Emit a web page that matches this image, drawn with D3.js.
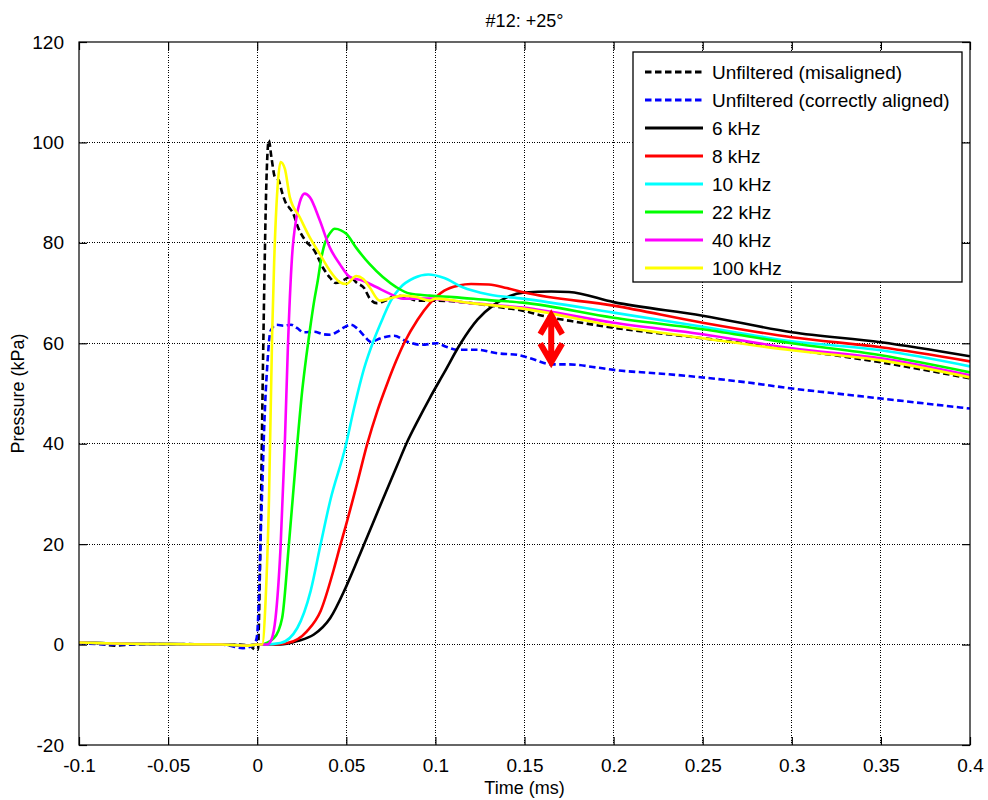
<!DOCTYPE html>
<html><head><meta charset="utf-8">
<script src="https://cdn.jsdelivr.net/npm/d3@7"></script>
<style>
html,body{margin:0;padding:0;background:#fff;}
text{font-family:"Liberation Sans",Arial,sans-serif;fill:#000;}
</style></head>
<body><svg id="chart" width="988" height="800"></svg>
<script>
// ---------- data ----------
const title = "#12: +25°";
const xLabel = "Time (ms)";
const yLabel = "Pressure (kPa)";
const xTicks = [-0.1,-0.05,0,0.05,0.1,0.15,0.2,0.25,0.3,0.35,0.4];
const xTickLabels = ["-0.1","-0.05","0","0.05","0.1","0.15","0.2","0.25","0.3","0.35","0.4"];
const yTicks = [-20,0,20,40,60,80,100,120];
const yTickLabels = ["-20","0","20","40","60","80","100","120"];

const seriesNames = ["Unfiltered (misaligned)","Unfiltered (correctly aligned)","6 kHz","8 kHz","10 kHz","22 kHz","40 kHz","100 kHz"];
const seriesColors = ["#000000","#0000ff","#000000","#ff0000","#00ffff","#00ff00","#ff00ff","#ffff00"];
const seriesDashed = [true,true,false,false,false,false,false,false];

const preTrigger = [[-0.1,0.4],[-0.08,0.2],[-0.05,0.1],[-0.02,0],[-0.005,-0.2]];

const unfilteredMisaligned = [[-0.1,0.3],[-0.09,0.2],[-0.08,-0.2],[-0.07,0],[-0.06,0.1],[-0.05,0],[-0.04,0.1],[-0.03,0],[-0.02,0],[-0.01,0],[-0.004,-0.3],[-0.001,-1],[0.0005,-1],[0.001,5],[0.002,25],[0.003,50],[0.004,72],[0.005,90],[0.0065,100.4],[0.008,97],[0.01,93],[0.012,92.5],[0.014,90],[0.016,88],[0.018,87],[0.02,86],[0.023,83],[0.027,80.5],[0.032,78.5],[0.037,75],[0.041,73],[0.044,72],[0.048,72.5],[0.052,73.2],[0.056,72],[0.06,71],[0.063,69],[0.067,68],[0.072,68.5],[0.078,69.5],[0.085,69],[0.09,68.5],[0.1,68.5],[0.12,68],[0.14,67],[0.149,66.5],[0.16,65.5],[0.18,64.2],[0.2,63.1],[0.25,61],[0.3,58.8],[0.35,56.2],[0.4,53]];

const unfilteredAligned = [[-0.1,0.3],[-0.08,0],[-0.06,0.1],[-0.04,0],[-0.02,0],[-0.008,-0.7],[-0.003,-0.3],[-0.001,0.5],[0,2],[0.001,10],[0.002,22],[0.003,33],[0.004,44],[0.0056,55.3],[0.0075,62.5],[0.011,63.7],[0.015,63.5],[0.019,63.7],[0.0225,63],[0.026,62.2],[0.032,62.3],[0.037,61.8],[0.041,61.7],[0.045,62.3],[0.049,63.2],[0.0524,63.7],[0.056,63],[0.06,61.5],[0.0637,60.3],[0.0693,61],[0.0768,61.5],[0.0843,60.3],[0.0918,59.7],[0.101,60],[0.106,59.3],[0.1124,58.7],[0.1236,58.7],[0.1348,58],[0.146,57.7],[0.155,56.8],[0.165,55.8],[0.175,55.8],[0.19,55.2],[0.2,54.7],[0.225,54],[0.25,53.2],[0.275,52.2],[0.3,51],[0.325,50],[0.35,49],[0.375,48],[0.4,47]];

const filt6k = [[0,0],[0.013,0],[0.0225,0.7],[0.0318,2],[0.041,5.3],[0.0496,11.3],[0.06,20],[0.07,28.5],[0.0787,35.8],[0.0837,40],[0.09,44.5],[0.097,49.2],[0.105,54.2],[0.1142,60],[0.1236,64.7],[0.133,67.7],[0.141,69.3],[0.15,70.1],[0.165,70.3],[0.175,70.2],[0.2,68.2],[0.25,65.5],[0.3,62.2],[0.35,60.2],[0.4,57.4]];

const filt8k = [[0,0],[0.0075,0],[0.0169,0.3],[0.028,2.7],[0.0356,6.7],[0.043,15],[0.0468,20],[0.0496,23.5],[0.056,32],[0.0618,40],[0.0674,46.5],[0.073,52],[0.078,56.5],[0.0824,60],[0.09,64.7],[0.097,68],[0.105,70.5],[0.113,71.5],[0.12,71.8],[0.13,71.7],[0.14,71],[0.15,70.1],[0.2,67.5],[0.25,64.1],[0.3,61.2],[0.35,59.2],[0.4,56.4]];

const filt10k = [[0,0],[0.0037,0],[0.013,0.3],[0.0225,3.3],[0.03,10.7],[0.0356,20],[0.041,28.7],[0.0496,39.5],[0.0543,47],[0.06,55],[0.0655,60.7],[0.0705,65],[0.075,68.5],[0.08,71],[0.088,73],[0.096,73.7],[0.105,73],[0.115,71.2],[0.13,69.7],[0.149,68.9],[0.2,66.1],[0.25,63.3],[0.3,60.4],[0.35,58.6],[0.4,55.4]];

const filt22k = [[0,0],[0.0019,0],[0.0094,1.3],[0.014,5.3],[0.0178,20],[0.0225,40],[0.0253,50.7],[0.0276,57.5],[0.0295,62.5],[0.032,68.5],[0.034,72.5],[0.036,77],[0.038,80],[0.041,82],[0.0435,82.8],[0.047,82.5],[0.05,81.8],[0.0556,79],[0.063,75.8],[0.0705,73.2],[0.078,71.2],[0.0855,69.9],[0.0968,69.5],[0.11,69.2],[0.13,68.6],[0.149,68.1],[0.2,65.1],[0.25,62.8],[0.3,60],[0.35,57.6],[0.4,54.2]];

const filt40k = [[0,0],[0.0056,0],[0.008,1],[0.0103,5.3],[0.0131,19.3],[0.0155,40],[0.0172,59],[0.0195,77],[0.022,85],[0.0239,88.1],[0.0267,89.8],[0.0295,89.1],[0.0351,84.5],[0.0407,79.1],[0.0463,75.8],[0.052,73.2],[0.059,72.5],[0.0668,71.2],[0.0743,69.9],[0.0817,68.9],[0.0968,68.9],[0.12,68],[0.149,67.1],[0.2,64.1],[0.25,61.8],[0.3,59],[0.35,57],[0.4,53.6]];

const filt100k = [[0,0],[0.0028,0],[0.0047,8.7],[0.0066,28.7],[0.0084,62],[0.0095,76],[0.0117,92.4],[0.0131,96.1],[0.0155,94.8],[0.0183,89.1],[0.0239,85.1],[0.0295,81.1],[0.0351,77.8],[0.0407,74.5],[0.0463,72.2],[0.05,71.8],[0.0556,73.4],[0.0595,72.8],[0.063,71.2],[0.0687,68.5],[0.0743,68.9],[0.0816,69.5],[0.0893,69.2],[0.0968,68.5],[0.1,68.9],[0.12,68],[0.149,66.9],[0.2,63.5],[0.25,61],[0.3,58.6],[0.35,56.6],[0.4,53.2]];

const seriesData = [unfilteredMisaligned, unfilteredAligned,
  preTrigger.concat(filt6k), preTrigger.concat(filt8k), preTrigger.concat(filt10k),
  preTrigger.concat(filt22k), preTrigger.concat(filt40k), preTrigger.concat(filt100k)];

// red double arrow annotation (time, top pressure, bottom pressure)
const arrowTime = 0.165, arrowTop = 66.2, arrowBottom = 55.6;

// ---------- layout ----------
const svg = d3.select("#chart");
const L = 79, R = 970, T = 42, B = 745;
const x = d3.scaleLinear().domain([-0.1,0.4]).range([L,R]);
const y = d3.scaleLinear().domain([-20,120]).range([B,T]);
const FS = 19;

// grid
const grid = svg.append("g");
xTicks.slice(1,-1).forEach(t=>{
  grid.append("line").attr("x1",x(t)).attr("x2",x(t)).attr("y1",T).attr("y2",B)
    .attr("stroke","#000").attr("stroke-width",1).attr("stroke-dasharray","1,1.5").attr("shape-rendering","crispEdges");
});
yTicks.slice(1,-1).forEach(t=>{
  grid.append("line").attr("y1",y(t)).attr("y2",y(t)).attr("x1",L).attr("x2",R)
    .attr("stroke","#000").attr("stroke-width",1).attr("stroke-dasharray","1,1.5").attr("shape-rendering","crispEdges");
});

// series
const clip = svg.append("clipPath").attr("id","clp").append("rect").attr("x",L).attr("y",T).attr("width",R-L).attr("height",B-T);
const line = d3.line().x(d=>x(d[0])).y(d=>y(d[1])).curve(d3.curveMonotoneX);
const lines = svg.append("g").attr("clip-path","url(#clp)");
seriesData.forEach((data,i)=>{
  lines.append("path").attr("d",line(data)).attr("fill","none")
    .attr("stroke",seriesColors[i]).attr("stroke-width",2.6)
    .attr("stroke-linejoin","round")
    .attr("stroke-dasharray",seriesDashed[i]?"6.5,3.5":null);
});

// arrow
const ax = x(arrowTime), ayT = y(arrowTop), ayB = y(arrowBottom);
const hw = 11, hl = 22;
svg.append("path")
  .attr("d",`M${ax},${ayT+2}L${ax},${ayB-2}M${ax-hw},${ayT+hl}L${ax},${ayT+3}L${ax+hw},${ayT+hl}M${ax-hw},${ayB-hl}L${ax},${ayB-3}L${ax+hw},${ayB-hl}`)
  .attr("fill","none").attr("stroke","#ff0000").attr("stroke-width",6).attr("stroke-linejoin","miter").attr("stroke-linecap","butt");

// axes box & ticks
const axG = svg.append("g");
axG.append("rect").attr("x",L).attr("y",T).attr("width",R-L).attr("height",B-T)
  .attr("fill","none").attr("stroke","#000").attr("stroke-width",1.2);
const bottomAxis = d3.axisBottom(x).tickValues(xTicks).tickFormat((d,i)=>xTickLabels[i]).tickSize(-8).tickPadding(14);
const topAxis = d3.axisTop(x).tickValues(xTicks).tickFormat("").tickSize(-8);
const leftAxis = d3.axisLeft(y).tickValues(yTicks).tickFormat((d,i)=>yTickLabels[i]).tickSize(-8).tickPadding(15);
const rightAxis = d3.axisRight(y).tickValues(yTicks).tickFormat("").tickSize(-8);
[[bottomAxis,`translate(0,${B})`],[topAxis,`translate(0,${T})`],[leftAxis,`translate(${L},0)`],[rightAxis,`translate(${R},0)`]].forEach(([a,tr])=>{
  const g = svg.append("g").attr("transform",tr).call(a);
  g.select(".domain").remove();
  g.selectAll(".tick line").attr("stroke","#000").attr("stroke-width",1.2);
  g.selectAll("text").attr("font-size",FS).attr("font-family","Liberation Sans, Arial, sans-serif").attr("fill","#000");
});

// title and labels
svg.append("text").attr("x",(L+R)/2).attr("y",27).attr("text-anchor","middle").attr("font-size",18).text(title);
svg.append("text").attr("x",(L+R)/2).attr("y",794).attr("text-anchor","middle").attr("font-size",18).text(xLabel);
svg.append("text").attr("transform",`translate(24,${(T+B)/2}) rotate(-90)`).attr("text-anchor","middle").attr("font-size",18).text(yLabel);

// legend
const lg = svg.append("g");
const lgX = 633, lgY = 52, lgW = 329, lgH = 230, rowH = 28;
lg.append("rect").attr("x",lgX).attr("y",lgY).attr("width",lgW).attr("height",lgH)
  .attr("fill","#fff").attr("stroke","#000").attr("stroke-width",1.3);
seriesNames.forEach((n,i)=>{
  const cy = lgY + 20 + i*rowH;
  lg.append("line").attr("x1",lgX+12).attr("x2",lgX+70).attr("y1",cy).attr("y2",cy)
    .attr("stroke",seriesColors[i]).attr("stroke-width",2.8)
    .attr("stroke-dasharray",seriesDashed[i]?"6.5,3.5":null);
  lg.append("text").attr("x",lgX+79).attr("y",cy).attr("dy","0.35em").attr("font-size",FS).text(n);
});
</script></body></html>
